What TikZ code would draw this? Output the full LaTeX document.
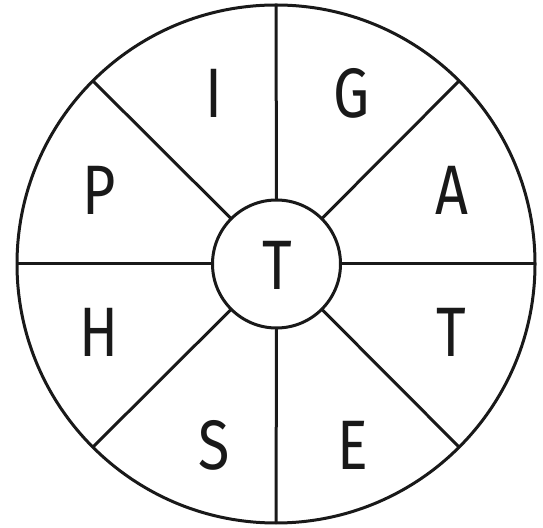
\documentclass[tikz,border=0pt]{standalone}
\usepackage{fontspec}
\setmainfont{Fira Sans}
\begin{document}
\begin{tikzpicture}[x=1pt,y=1pt,
  ring/.style={draw=black!90, line width=3pt, circle, inner sep=0pt, outer sep=0pt},
  spoke/.style={draw=black!90, line width=3pt},
  letter/.style={anchor=base, inner sep=0pt, xscale=0.82, transform shape, font=\fontsize{70}{70}\selectfont, text=black!90}]
\useasboundingbox (0,0) rectangle (543,527);
\node[ring, minimum size=518pt] (o) at (276,263) {};
\node[ring, minimum size=128pt] (c) at (276.5,263) {};
\foreach \a in {0,45,...,315}{
  \draw[spoke] (c.\a) -- (o.\a);
}
\node[letter] (lI) at (214,409) {I};
\node[letter] (lG) at (352,409) {G};
\node[letter] (lP) at (99,312) {P};
\node[letter] (lA) at (452,312) {A};
\node[letter] (lH) at (99,170) {H};
\node[letter] (lT) at (451,170) {T};
\node[letter] (lS) at (214,57) {S};
\node[letter] (lE) at (353,57) {E};
\node[letter] (lC) at (277,237) {T};
\end{tikzpicture}
\end{document}
